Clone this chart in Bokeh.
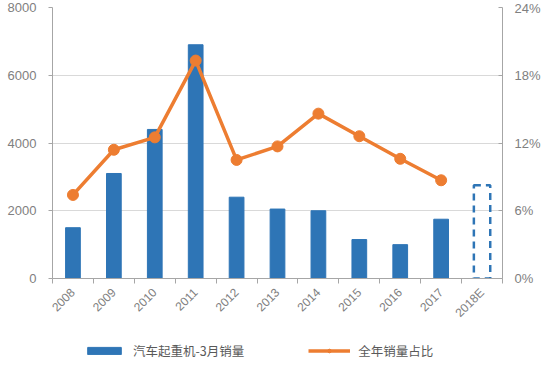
from bokeh.plotting import figure
from bokeh.layouts import column
from bokeh.models import Range1d, LinearAxis, FixedTicker, Legend, LegendItem, ColumnDataSource
from bokeh.embed import file_html
from bokeh.resources import INLINE

years = ["2008", "2009", "2010", "2011", "2012", "2013", "2014", "2015", "2016", "2017", "2018E"]
sales_march = [1500, 3100, 4400, 6900, 2400, 2050, 2000, 1150, 1000, 1750]
sales_2018_forecast = [2750]
share_pct = [7.4, 11.4, 12.5, 19.3, 10.5, 11.7, 14.6, 12.6, 10.6, 8.7]
left_ticks = [0, 2000, 4000, 6000, 8000]
right_ticks = [0, 6, 12, 18, 24]
right_labels = ["0%", "6%", "12%", "18%", "24%"]
legend_labels = ["汽车起重机-3月销量", "全年销量占比"]

BLUE = "#2E75B6"
ORANGE = "#ED7D31"
TXT = "#808080"
FONT = "Noto Sans CJK SC"

idx = list(range(len(years)))
src_bar = ColumnDataSource(dict(x=idx[:len(sales_march)], y=sales_march))
src_fc = ColumnDataSource(dict(x=idx[len(sales_march):], y=sales_2018_forecast))
src_line = ColumnDataSource(dict(x=idx[:len(share_pct)], y=share_pct))

p = figure(frame_width=450, frame_height=271, output_backend="svg", toolbar_location=None,
           x_range=Range1d(-0.5, len(years) - 0.5), y_range=Range1d(0, 8000),
           min_border_left=52, min_border_right=44, min_border_top=7, min_border_bottom=40)
p.outline_line_color = None
p.background_fill_color = "white"
p.border_fill_color = "white"
p.extra_y_ranges = {"pct": Range1d(0, 24)}

p.xgrid.grid_line_color = None
p.ygrid.grid_line_color = "#d9d9d9"
p.ygrid.grid_line_width = 1

p.yaxis.ticker = FixedTicker(ticks=left_ticks)
p.yaxis.axis_line_color = "#a6a6a6"
p.yaxis.major_tick_line_color = "#a6a6a6"
p.yaxis.major_tick_in = 0
p.yaxis.major_tick_out = 4
p.yaxis.minor_tick_line_color = None
p.yaxis.major_label_text_color = TXT
p.yaxis.major_label_text_font = "Liberation Sans"
p.yaxis.major_label_text_font_size = "13px"
p.yaxis.major_label_standoff = 12

ra = LinearAxis(y_range_name="pct", ticker=FixedTicker(ticks=right_ticks),
                major_label_overrides={t: l for t, l in zip(right_ticks, right_labels)})
ra.axis_line_color = "#a6a6a6"
ra.major_tick_line_color = "#a6a6a6"
ra.major_tick_in = 4
ra.major_tick_out = 0
ra.minor_tick_line_color = None
ra.major_label_text_color = TXT
ra.major_label_text_font = "Liberation Sans"
ra.major_label_text_font_size = "13px"
ra.major_label_standoff = 12
p.add_layout(ra, "right")

p.xaxis.ticker = FixedTicker(ticks=idx, minor_ticks=[i - 0.5 for i in idx] + [len(idx) - 0.5])
p.xaxis.major_label_overrides = {i: y for i, y in enumerate(years)}
p.xaxis.major_tick_line_color = None
p.xaxis.minor_tick_line_color = "#a6a6a6"
p.xaxis.minor_tick_in = 0
p.xaxis.minor_tick_out = 5
p.xaxis.axis_line_color = "#a6a6a6"
p.xaxis.major_label_orientation = 0.785
p.xaxis.major_label_text_color = TXT
p.xaxis.major_label_text_font = "Liberation Sans"
p.xaxis.major_label_text_font_size = "12px"
p.xaxis.major_label_standoff = 6

p.vbar(x="x", top="y", width=0.36, source=src_bar, fill_color=BLUE, line_color=BLUE)
p.vbar(x="x", top="y", width=0.4, source=src_fc, fill_color=None, line_color=BLUE,
       line_width=2.5, line_dash="7 5")
p.line(x="x", y="y", source=src_line, y_range_name="pct", line_color=ORANGE, line_width=3.5)
p.scatter(x="x", y="y", source=src_line, y_range_name="pct", size=11,
          fill_color=ORANGE, line_color=ORANGE)

# legend strip (proxy renderers sit outside the strip's visible range)
q = figure(width=546, height=36, output_backend="svg", toolbar_location=None,
           x_range=Range1d(0, 1), y_range=Range1d(0, 1), min_border=0)
q.axis.visible = False
q.grid.visible = False
q.outline_line_color = None
proxy = ColumnDataSource(dict(x=[-5], y=[-5]))
lb = q.vbar(x="x", top="y", width=0.3, source=proxy, fill_color=BLUE, line_color=BLUE)
ll = q.line(x="x", y="y", source=proxy, line_color=ORANGE, line_width=3.5)
lm = q.scatter(x="x", y="y", source=proxy, size=10, fill_color=ORANGE, line_color=ORANGE)
legend = Legend(items=[LegendItem(label=legend_labels[0], renderers=[lb]),
                       LegendItem(label=legend_labels[1], renderers=[ll, lm])],
                orientation="horizontal", location=(31, 3),
                glyph_width=42, glyph_height=9, spacing=64, label_standoff=8,
                label_text_font=FONT, label_text_font_size="12.5px", label_text_color="#595959",
                border_line_color=None, background_fill_alpha=0, padding=0, margin=0)
q.add_layout(legend)

layout = column(p, q, spacing=0)
open("out.html", "w").write(file_html(layout, INLINE))
